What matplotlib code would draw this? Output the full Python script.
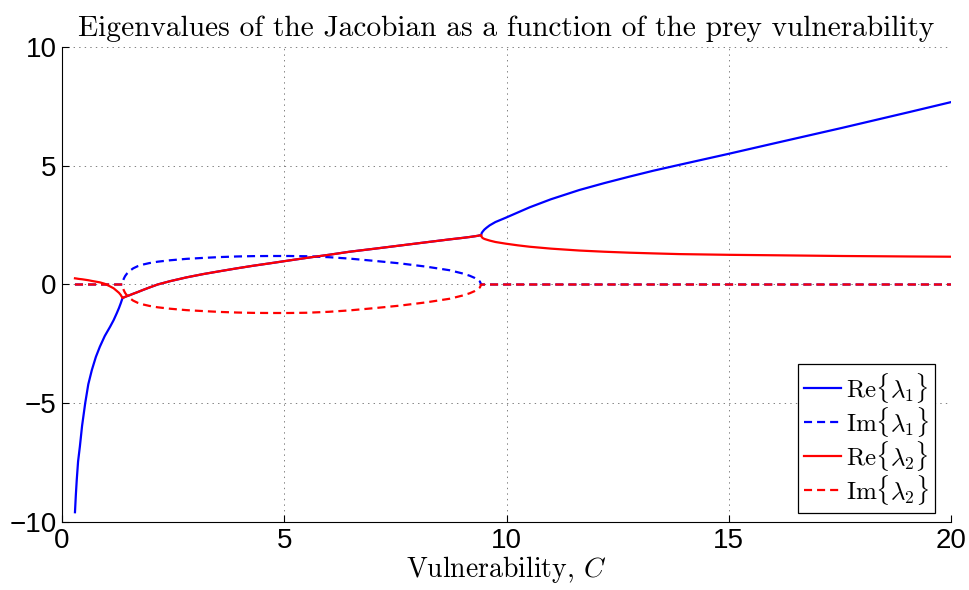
import numpy as np
import matplotlib
matplotlib.use("Agg")
import matplotlib.pyplot as plt

plt.rcParams["mathtext.fontset"] = "cm"
plt.rcParams["lines.scale_dashes"] = False
plt.rcParams["axes.unicode_minus"] = True

# Region 1: two real eigenvalues (C below the first bifurcation)
c_real_lo = [0.29, 0.31, 0.33, 0.36, 0.40, 0.45, 0.52, 0.59, 0.67, 0.76,
             0.85, 0.96, 1.08, 1.16, 1.23, 1.28, 1.32, 1.36]
re1_lo = [-9.59, -8.85, -8.23, -7.45, -6.83, -5.95, -5.00, -4.20, -3.60, -3.05,
          -2.62, -2.17, -1.78, -1.50, -1.21, -0.99, -0.79, -0.57]
re2_lo = [0.26, 0.255, 0.25, 0.24, 0.23, 0.22, 0.20, 0.18, 0.15, 0.12,
          0.09, 0.03, -0.08, -0.16, -0.27, -0.35, -0.44, -0.57]

# Region 2: complex conjugate pair
c_cplx = [1.36, 1.37, 1.39, 1.42, 1.46, 1.52, 1.60, 1.70, 1.82, 1.96,
          2.15, 2.43, 2.80, 3.18, 3.55, 3.93, 4.30, 4.67, 5.10, 5.50,
          6.00, 6.47, 7.00, 7.60, 8.20, 8.72, 9.00, 9.17, 9.28, 9.35,
          9.40, 9.43]
re_cplx = [-0.57, -0.56, -0.545, -0.52, -0.49, -0.45, -0.39, -0.32, -0.23, -0.13,
           0.00, 0.14, 0.30, 0.44, 0.56, 0.68, 0.79, 0.89, 1.01, 1.12,
           1.25, 1.38, 1.50, 1.64, 1.78, 1.90, 1.96, 2.00, 2.03, 2.05,
           2.07, 2.08]
im_cplx = [0.00, 0.15, 0.25, 0.36, 0.46, 0.57, 0.68, 0.77, 0.84, 0.90,
           0.96, 1.02, 1.08, 1.12, 1.155, 1.18, 1.195, 1.20, 1.20, 1.19,
           1.15, 1.09, 1.00, 0.89, 0.75, 0.60, 0.47, 0.37, 0.28, 0.20,
           0.125, 0.00]

# Region 3: two real eigenvalues again
c_real_hi = [9.43, 9.44, 9.46, 9.50, 9.55, 9.62, 9.75, 9.98, 10.25, 10.52,
             11.00, 11.64, 12.20, 12.76, 13.30, 13.89, 14.99, 16.06, 17.56,
             19.06, 20.00]
re1_hi = [2.08, 2.16, 2.22, 2.31, 2.39, 2.49, 2.63, 2.81, 3.03, 3.25,
          3.59, 3.98, 4.27, 4.54, 4.79, 5.04, 5.50, 5.96, 6.60,
          7.26, 7.68]
re2_hi = [2.08, 2.01, 1.96, 1.92, 1.89, 1.85, 1.79, 1.72, 1.65, 1.59,
          1.51, 1.43, 1.38, 1.34, 1.31, 1.28, 1.25, 1.23, 1.20,
          1.18, 1.17]

C = np.concatenate([c_real_lo, c_cplx, c_real_hi])
re1 = np.concatenate([re1_lo, re_cplx, re1_hi])
re2 = np.concatenate([re2_lo, re_cplx, re2_hi])
im1 = np.concatenate([np.zeros(len(c_real_lo)), im_cplx, np.zeros(len(c_real_hi))])
im2 = -im1

fig = plt.figure(figsize=(9.7, 5.9), dpi=100)
ax = fig.add_axes([0.064, 0.1153, 0.9164, 0.805])

lw = 1.6
dash = (5.8, 3.6)
ax.plot(C, re1, color="#0000ff", lw=lw, label=r"$\mathrm{Re}\{\lambda_1\}$")
ax.plot(C, im1, color="#0000ff", lw=lw, ls="--", dashes=dash,
        label=r"$\mathrm{Im}\{\lambda_1\}$")
ax.plot(C, re2, color="#ff0000", lw=lw, label=r"$\mathrm{Re}\{\lambda_2\}$")
ax.plot(C, im2, color="#ff0000", lw=lw, ls="--", dashes=dash,
        label=r"$\mathrm{Im}\{\lambda_2\}$")

ax.set_xlim(0, 20)
ax.set_ylim(-10, 10)
ax.set_xticks([0, 5, 10, 15, 20])
ax.set_yticks([-10, -5, 0, 5, 10])

ax.grid(True, color="#808080", linestyle=(0, (1, 3)), linewidth=0.7)
for side in ("top", "right"):
    ax.spines[side].set_visible(False)
for side in ("left", "bottom"):
    ax.spines[side].set_linewidth(0.8)
ax.tick_params(direction="in", length=5, width=0.8, labelsize=20, pad=4)
for lab in ax.get_xticklabels() + ax.get_yticklabels():
    lab.set_fontfamily("Liberation Sans")

ax.set_title("Eigenvalues of the Jacobian as a function of the prey vulnerability",
             fontfamily="cmr10", fontsize=21.2, pad=8)
ax.set_xlabel("Vulnerability, $C$", fontfamily="cmr10", fontsize=20, labelpad=0)

leg = ax.legend(loc="lower right", fontsize=18, frameon=True, fancybox=False,
                framealpha=1, edgecolor="black", handlelength=1.45,
                handletextpad=0.2, borderpad=0.25, labelspacing=0.0,
                borderaxespad=0, bbox_to_anchor=(0.982, 0.019))
leg.get_frame().set_linewidth(0.9)

fig.savefig("out.png", dpi=100)
